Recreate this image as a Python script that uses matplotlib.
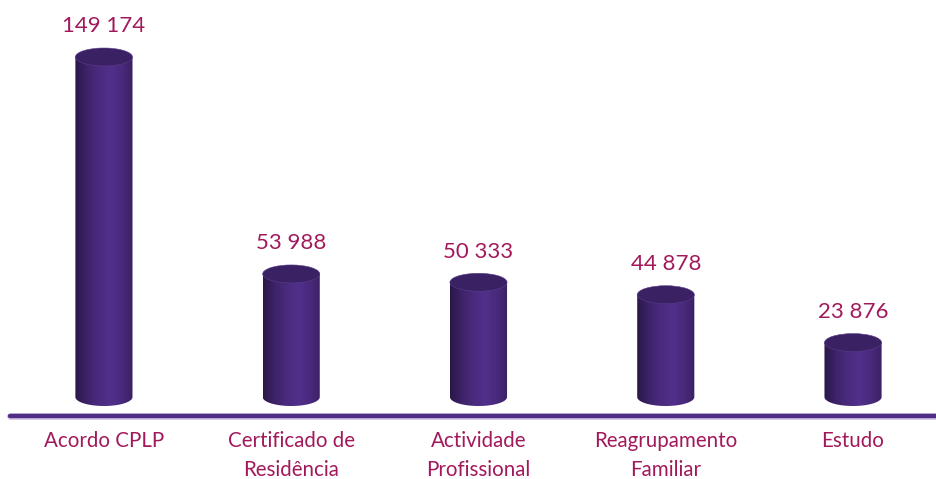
"""Cylinder bar chart: residence titles by type."""
import numpy as np
import matplotlib
matplotlib.use("Agg")
import matplotlib.pyplot as plt
from matplotlib.patches import Ellipse, PathPatch
from matplotlib.path import Path
from matplotlib.colors import LinearSegmentedColormap

categories = ["Acordo CPLP", "Certificado de\nResidência", "Actividade\nProfissional",
              "Reagrupamento\nFamiliar", "Estudo"]
values = [149174, 53988, 50333, 44878, 23876]
value_labels = ["149 174", "53 988", "50 333", "44 878", "23 876"]

TEXT_COLOR = "#a2195b"
LINE_COLOR = "#4f2d84"
TOP_COLOR = "#3a2163"

plt.rcParams["font.family"] = ["Lato", "DejaVu Sans"]

fig = plt.figure(figsize=(9.36, 4.79), dpi=100)
ax = fig.add_axes([0, 0, 1, 1])
ax.set_xlim(-0.555, 4.443)
ax.set_ylim(-35977, 174183)
ax.axis("off")

body_cmap = LinearSegmentedColormap.from_list(
    "body", ["#2a1748", "#3d2368", "#4a2a7e", "#50308a", "#4a2a7e", "#3a2163"])
grad = np.linspace(0, 1, 256).reshape(1, -1)

w = 0.305
eh = 7900  # ellipse height in value units
for i, v in enumerate(values):
    x0, x1 = i - w / 2, i + w / 2
    t = np.linspace(np.pi, 2 * np.pi, 60)
    bx = i + w / 2 * np.cos(t)
    by = eh / 2 * np.sin(t)
    verts = list(zip(bx, by)) + [(x1, v), (x0, v), (bx[0], by[0])]
    codes = [Path.MOVETO] + [Path.LINETO] * (len(verts) - 2) + [Path.CLOSEPOLY]
    clip = PathPatch(Path(verts, codes), transform=ax.transData,
                     facecolor="none", edgecolor="none")
    ax.add_patch(clip)
    im = ax.imshow(grad, cmap=body_cmap, aspect="auto",
                   extent=[x0, x1, -eh / 2, v], zorder=2)
    im.set_clip_path(clip)
    ax.add_patch(Ellipse((i, v), w, eh, facecolor=TOP_COLOR,
                         edgecolor="#5a3c8c", linewidth=0.4, zorder=3))
    ax.annotate(value_labels[i], (i, v), xytext=(0, 22), textcoords="offset points",
                ha="center", va="center", fontsize=16, color=TEXT_COLOR)

ax.plot([-0.5, 4.443], [-8336, -8336], color="#d9cbe6", linewidth=5,
        solid_capstyle="round", zorder=1)
ax.plot([-0.5, 4.443], [-8336, -8336], color=LINE_COLOR, linewidth=3.2,
        solid_capstyle="round", zorder=1)

for i, c in enumerate(categories):
    ax.text(i, -14800, c, ha="center", va="top", fontsize=14.8,
            color=TEXT_COLOR, linespacing=1.55)

fig.savefig("out.png", dpi=100)
